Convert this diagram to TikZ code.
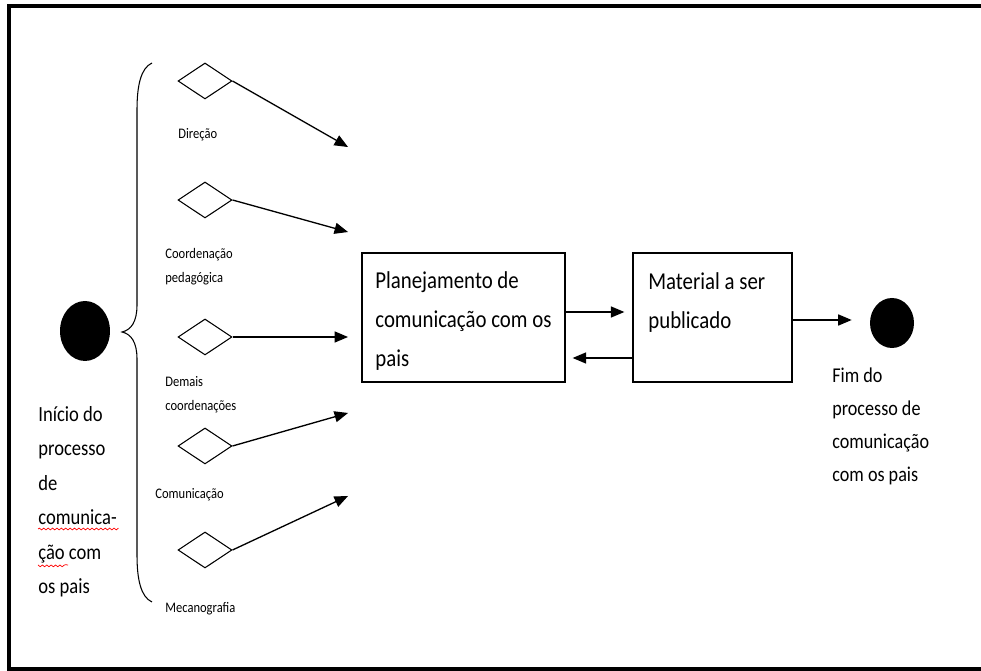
\documentclass[tikz,border=0pt]{standalone}
\usepackage{fontspec}
\setmainfont{Carlito}[FakeStretch=0.86]
\usetikzlibrary{shapes}
\usetikzlibrary{calc}
\usetikzlibrary{decorations.pathmorphing}
\usepgflibrary{arrows}

\begin{document}
\begin{tikzpicture}[x=0.02cm,y=-0.02cm,>=triangle 45,
  dia/.style={diamond,draw,line width=0.6pt,minimum width=1.08cm,minimum height=0.72cm,inner sep=0pt},
  dot/.style={ellipse,fill=black,inner sep=0pt},
  box/.style={draw,line width=0.8pt,minimum height=2.58cm,inner sep=0pt},
  arr/.style={->,line width=0.75pt},
  small/.style={font=\fontsize{8.3}{13.6}\selectfont,align=left,anchor=west,inner sep=0pt},
  txt/.style={align=left,anchor=north west,inner sep=0pt}]
\useasboundingbox (0,0) rectangle (981,671);
% the frame
\draw[line width=2.3pt] (981,6) -- (9,6) -- (9,669) -- (981,669);
% start and end
\node[dot,minimum width=1cm,minimum height=1.2cm] (start) at (85,331) {};
\node[dot,minimum width=0.88cm,minimum height=1cm] (fim) at (892,323) {};
\node[txt,font=\fontsize{12.3}{19.6}\selectfont] (inicio) at (38,406)
  {Início do\\processo\\de\\comunica-\\ção com\\os pais};
\draw[red,line width=0.4pt,decorate,decoration={snake,amplitude=0.5pt,segment length=2.5pt}]
  (38,529) -- (117,529) (38,565) -- (68,565);
\node[txt,font=\fontsize{12}{18.7}\selectfont] (fimtxt) at (832,368)
  {Fim do\\processo de\\comunicação\\com os pais};
% the brace
\draw[line width=0.6pt] (152,63) .. controls (141,68) and (137,85) .. (137,110)
  -- (137,305) .. controls (137,322) and (131,330) .. (122,332)
  .. controls (131,334) and (137,342) .. (137,359)
  -- (137,555) .. controls (137,580) and (141,597) .. (152,602);
% the diamonds
\node[dia] (d1) at (205,81) {};
\node[dia] (d2) at (205,200) {};
\node[dia] (d3) at (205,337) {};
\node[dia] (d4) at (205,446) {};
\node[dia] (d5) at (205,550) {};
%     their labels
\node[small] (l1) at (178,135) {Direção};
\node[small] (l2) at (165,267) {Coordenação\\pedagógica};
\node[small] (l3) at (165,395) {Demais\\coordenações};
\node[small] (l4) at (155,495) {Comunicação};
\node[small] (l5) at (165,609) {Mecanografia};
%     their arrows
\coordinate (t1) at (348,147);
\coordinate (t2) at (348,232);
\coordinate (t3) at (348,337);
\coordinate (t4) at (348,413);
\coordinate (t5) at (348,496);
\draw[arr] (d1.east) -- (t1);
\draw[arr] (d2.east) -- (t2);
\draw[arr] (d3.east) -- (t3);
\draw[arr] (d4.east) -- (t4);
\draw[arr] (d5.east) -- (t5);
% the boxes
\node[box,minimum width=4.06cm] (plan) at (463.5,317.5) {};
\node[box,minimum width=3.18cm] (mat) at (712.5,317.5) {};
\node[txt,font=\fontsize{13.8}{22.4}\selectfont] (plantxt) at (375,271)
  {Planejamento de\\comunicação com os\\pais};
\node[txt,font=\fontsize{13.8}{22.4}\selectfont] (mattxt) at (648,272)
  {Material a ser\\publicado};
\coordinate (p1) at ($(plan.east)+(0,-5.5)$);
\coordinate (m1) at ($(mat.west)+(0,40.5)$);
\coordinate (m2) at ($(mat.east)+(0,2.5)$);
\draw[arr,shorten >=0.16cm] (p1) -- (p1 -| mat.west);
\draw[arr,shorten >=0.14cm] (m1) -- (m1 -| plan.east);
\draw[arr,shorten >=0.36cm] (m2) -- (m2 -| fim.west);
\end{tikzpicture}
\end{document}
